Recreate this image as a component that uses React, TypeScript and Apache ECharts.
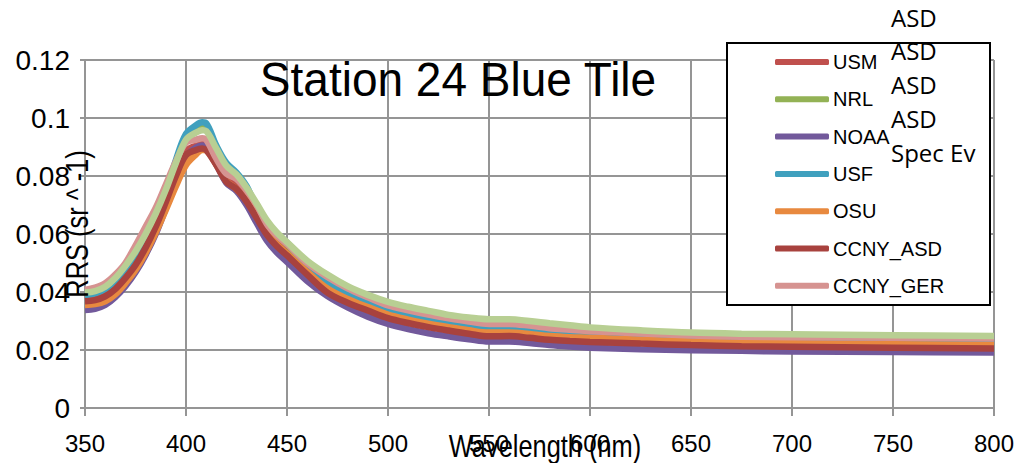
import React, { useEffect, useRef } from "react";
import * as echarts from "echarts";

// Wavelength sample points (nm)
const wavelengths = [
  350, 355, 360, 365, 370, 375, 380, 385, 390, 395, 400, 405, 408, 410, 415, 420, 425, 430, 435, 440,
  445, 450, 460, 470, 480, 490, 500, 510, 520, 530, 540, 550, 560, 570, 580, 590, 600, 625, 650, 675,
  700, 750, 800,
];

// Remote-sensing reflectance (sr^-1) per team
const usm = [
  0.0375, 0.038, 0.0392, 0.0418, 0.0455, 0.05, 0.056, 0.0632, 0.0715, 0.081, 0.0885, 0.0905, 0.0912,
  0.0908, 0.0852, 0.079, 0.0765, 0.0722, 0.0665, 0.0608, 0.0568, 0.0535, 0.0466, 0.0405, 0.037, 0.0342,
  0.0316, 0.0299, 0.0285, 0.0273, 0.0262, 0.0253, 0.0254, 0.0248, 0.0241, 0.0237, 0.0234, 0.0228, 0.0222,
  0.0218, 0.0216, 0.0213, 0.021,
];
const nrl = [
  0.0393, 0.0398, 0.0412, 0.044, 0.0478, 0.0528, 0.0588, 0.0658, 0.074, 0.0838, 0.0935, 0.0962, 0.097,
  0.0966, 0.0898, 0.0838, 0.0806, 0.0758, 0.0695, 0.064, 0.0598, 0.0565, 0.049, 0.0432, 0.0392, 0.0362,
  0.0336, 0.0319, 0.0304, 0.0291, 0.0281, 0.0273, 0.0274, 0.0268, 0.0261, 0.0257, 0.0254, 0.0247, 0.0241,
  0.0237, 0.0235, 0.0231, 0.0228,
];
const noaa = [
  0.0338, 0.0342, 0.0355, 0.0382, 0.042, 0.0468, 0.0528, 0.06, 0.069, 0.079, 0.0868, 0.0898, 0.0905,
  0.0898, 0.084, 0.0776, 0.0748, 0.07, 0.0638, 0.0578, 0.0536, 0.0504, 0.0438, 0.0386, 0.0347, 0.0315,
  0.029, 0.0272, 0.0258, 0.0247, 0.0237, 0.0229, 0.0229, 0.0224, 0.0217, 0.0212, 0.0208, 0.0203, 0.0199,
  0.0197, 0.0195, 0.0193, 0.0191,
];
const usf = [
  0.039, 0.0395, 0.041, 0.044, 0.048, 0.053, 0.059, 0.066, 0.0745, 0.0855, 0.0945, 0.0975, 0.0985,
  0.0982, 0.0905, 0.0845, 0.0812, 0.0765, 0.069, 0.064, 0.0602, 0.057, 0.0495, 0.0438, 0.0398, 0.0366,
  0.0341, 0.0324, 0.0309, 0.0296, 0.0285, 0.0277, 0.0278, 0.0272, 0.0265, 0.0262, 0.0259, 0.0252, 0.0246,
  0.0242, 0.024, 0.0236, 0.0232,
];
const osu = [
  0.0355, 0.0358, 0.0368, 0.0392, 0.043, 0.0476, 0.0535, 0.0605, 0.0683, 0.0765, 0.0838, 0.0875, 0.089,
  0.0888, 0.084, 0.0782, 0.0755, 0.0715, 0.066, 0.0605, 0.0565, 0.0532, 0.047, 0.0412, 0.0376, 0.0348,
  0.0322, 0.0305, 0.0291, 0.0279, 0.0268, 0.026, 0.026, 0.0255, 0.0248, 0.0244, 0.0242, 0.0235, 0.0229,
  0.0225, 0.0223, 0.022, 0.0217,
];
const ccnyAsd = [
  0.0368, 0.0372, 0.0385, 0.041, 0.0448, 0.0493, 0.0553, 0.0625, 0.071, 0.08, 0.0872, 0.089, 0.0895,
  0.089, 0.0838, 0.078, 0.0755, 0.0712, 0.0655, 0.0598, 0.0558, 0.0526, 0.046, 0.0398, 0.0363, 0.0336,
  0.031, 0.0293, 0.0279, 0.0267, 0.0256, 0.0247, 0.0248, 0.0242, 0.0235, 0.0231, 0.0228, 0.0222, 0.0217,
  0.0213, 0.0211, 0.0208, 0.0205,
];
const ccnyGer = [
  0.0407, 0.0415, 0.043, 0.046, 0.05, 0.056, 0.0625, 0.069, 0.077, 0.085, 0.0915, 0.0925, 0.093, 0.0925,
  0.086, 0.0808, 0.079, 0.075, 0.07, 0.0635, 0.0595, 0.0566, 0.05, 0.0452, 0.0413, 0.0382, 0.0354, 0.0337,
  0.0322, 0.0309, 0.0298, 0.029, 0.029, 0.0284, 0.0275, 0.027, 0.0265, 0.0257, 0.025, 0.0246, 0.0244,
  0.0242, 0.024,
];
const asdExtra = [
  0.0398, 0.0403, 0.0418, 0.0448, 0.049, 0.054, 0.06, 0.067, 0.0752, 0.0845, 0.0925, 0.095, 0.0958,
  0.0955, 0.0895, 0.0835, 0.0805, 0.076, 0.0705, 0.0648, 0.0605, 0.0572, 0.0508, 0.046, 0.042, 0.039,
  0.0366, 0.0349, 0.0335, 0.0321, 0.0312, 0.0306, 0.0306, 0.03, 0.0292, 0.0285, 0.0278, 0.0268, 0.026,
  0.0256, 0.0254, 0.0251, 0.0248,
];

const legendNames = ["USM", "NRL", "NOAA", "USF", "OSU", "CCNY_ASD", "CCNY_GER"];
const overflowLabels = ["ASD", "ASD", "ASD", "ASD", "Spec Ev"];

const seriesDefs = [
  { name: "USM", values: usm, color: "#C0504D" },
  { name: "NRL", values: nrl, color: "#93B255" },
  { name: "NOAA", values: noaa, color: "#72599B" },
  { name: "USF", values: usf, color: "#40A0BE" },
  { name: "OSU", values: osu, color: "#E8893F" },
  { name: "CCNY_ASD", values: ccnyAsd, color: "#A8423E" },
  { name: "CCNY_GER", values: ccnyGer, color: "#D69391" },
  { name: "ASD", values: asdExtra, color: "#B8CF93" },
];

const SANS = "'Liberation Sans', Arial, sans-serif";

export default function App() {
  const ref = useRef<HTMLDivElement>(null);

  useEffect(() => {
    if (!ref.current) return;
    const chart = echarts.init(ref.current, undefined, { renderer: "svg" });
    const gridColor = "#959595";

    chart.setOption({
      animation: false,
      backgroundColor: "#ffffff",
      grid: { left: 85, right: 20, top: 60, bottom: 55, containLabel: false },
      xAxis: {
        type: "value",
        min: 350,
        max: 800,
        interval: 50,
        axisLine: { show: true, lineStyle: { color: gridColor, width: 2 } },
        axisTick: { show: true, length: 8, lineStyle: { color: gridColor, width: 2 } },
        axisLabel: { color: "#000", fontFamily: SANS, fontSize: 24, margin: 23 },
        splitLine: { show: true, lineStyle: { color: gridColor, width: 2 } },
      },
      yAxis: {
        type: "value",
        min: 0,
        max: 0.12,
        interval: 0.02,
        axisLine: { show: true, lineStyle: { color: gridColor, width: 2 } },
        axisTick: { show: true, length: 5, lineStyle: { color: gridColor, width: 2 } },
        axisLabel: {
          color: "#000",
          fontFamily: SANS,
          fontSize: 28,
          margin: 15,
          formatter: (v: number) => String(parseFloat(v.toFixed(2))),
        },
        splitLine: { show: true, lineStyle: { color: gridColor, width: 2 } },
      },
      legend: {
        data: legendNames,
        orient: "vertical",
        left: 775,
        top: 50,
        padding: 0,
        itemGap: 13.3,
        itemWidth: 54,
        itemHeight: 6,
        icon: "roundRect",
        textStyle: { color: "#000", fontFamily: SANS, fontSize: 20, lineHeight: 24, padding: [0, 0, 0, -1] },
        z: 6,
      },
      graphic: [
        {
          type: "rect",
          z: 5,
          shape: { x: 727, y: 43, width: 263, height: 262 },
          style: { fill: "#ffffff", stroke: "#000000", lineWidth: 2 },
        },
        {
          type: "text",
          z: 7,
          x: 458,
          y: 79,
          scaleY: 1.06,
          style: {
            text: "Station 24 Blue Tile",
            fontFamily: SANS,
            fontSize: 46,
            fill: "#000",
            textAlign: "center",
            textVerticalAlign: "middle",
          },
        },
        {
          type: "text",
          z: 7,
          x: 77,
          y: 224,
          rotation: Math.PI / 2,
          scaleX: 0.82,
          style: {
            text: "RRS (sr ^ -1)",
            fontFamily: SANS,
            fontSize: 31,
            fill: "#000",
            textAlign: "center",
            textVerticalAlign: "middle",
          },
        },
        {
          type: "text",
          z: 7,
          x: 545,
          y: 446,
          scaleX: 0.82,
          style: {
            text: "Wavelength (nm)",
            fontFamily: SANS,
            fontSize: 31,
            fill: "#000",
            textAlign: "center",
            textVerticalAlign: "middle",
          },
        },
        ...overflowLabels.map((t, i) => ({
          type: "text",
          z: 8,
          x: 891,
          y: 17 + i * 33.8,
          style: {
            text: t,
            fontFamily: "'Open Sans', 'Noto Sans', sans-serif",
            fontSize: 24,
            fill: "#000",
            textAlign: "left",
            textVerticalAlign: "middle",
          },
        })),
      ],
      series: seriesDefs.map((s) => ({
        name: s.name,
        type: "line",
        data: wavelengths.map((w, i) => [w, s.values[i]]),
        showSymbol: false,
        symbol: "none",
        smooth: 0.35,
        color: s.color,
        lineStyle: { color: s.color, width: 6.5 },
        z: 2,
      })),
    });

    return () => chart.dispose();
  }, []);

  return (
    <div
      ref={ref}
      style={{ position: "absolute", left: 0, top: 0, width: 1017, height: 463, background: "#fff" }}
    />
  );
}
